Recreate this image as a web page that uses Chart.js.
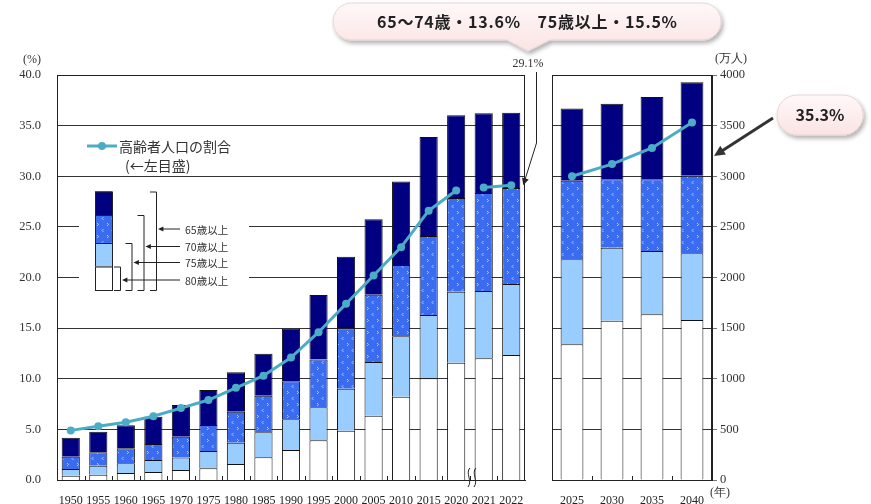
<!DOCTYPE html>
<html>
<head>
<meta charset="utf-8">
<script src="https://cdn.jsdelivr.net/npm/chart.js@4.4.0/dist/chart.umd.min.js"></script>
<style>
  body { margin: 0; background: #fff; width: 871px; height: 504px; overflow: hidden; position: relative; }
  #leftChart { position: absolute; left: 0; top: 0; }
  #rightChart { position: absolute; left: 540px; top: 0; }
  #notes { position: absolute; left: 0; top: 0; pointer-events: none; }
</style>
</head>
<body>
<canvas id="leftChart" width="545" height="504"></canvas>
<canvas id="rightChart" width="331" height="504"></canvas>
<svg id="notes" width="871" height="504" xmlns="http://www.w3.org/2000/svg">
  <defs>
    <linearGradient id="pink" x1="0" y1="0" x2="0" y2="1">
      <stop offset="0" stop-color="#fff8f8"/>
      <stop offset="1" stop-color="#fbe3e3"/>
    </linearGradient>
    <filter id="shadow" x="-10%" y="-30%" width="120%" height="170%">
      <feDropShadow dx="2" dy="3" stdDeviation="2" flood-color="#000" flood-opacity="0.3"/>
    </filter>
  </defs>
  <path d="M351.5,3 H702.5 A18.5,18.5 0 0 1 702.5,40 H550 L528,51 L507,40 H351.5 A18.5,18.5 0 0 1 351.5,3 Z"
        fill="url(#pink)" stroke="#e6d6d6" filter="url(#shadow)"/>
  <text x="527" y="28" text-anchor="middle" font-family="Noto Sans CJK JP" font-weight="700" font-size="16"
        fill="#222" textLength="300" lengthAdjust="spacing">65～74歳・13.6%　75歳以上・15.5%</text>
  <path d="M797,95 H843 A20,20 0 0 1 843,135 H797 A20,20 0 0 1 797,95 Z"
        fill="url(#pink)" stroke="#e6d6d6" filter="url(#shadow)"/>
  <text x="820" y="121" text-anchor="middle" font-family="Noto Sans CJK JP" font-weight="700" font-size="16" fill="#222">35.3%</text>
</svg>
<script>
// 実績 (1950-2022)
const yearsA = ['1950','1955','1960','1965','1970','1975','1980','1985','1990','1995','2000','2005','2010','2015','2020','2021','2022'];
const pop65A = [418, 477, 541, 625, 740, 888, 1065, 1247, 1493, 1828, 2204, 2576, 2948, 3387, 3603, 3621, 3627];
const pop70A = [230, 273, 313, 356, 428, 543, 675, 833, 975, 1190, 1500, 1830, 2123, 2410, 2785, 2835, 2884];
const pop75A = [109, 141, 165, 198, 221, 286, 369, 471, 600, 718, 902, 1165, 1419, 1630, 1860, 1867, 1936];
const pop80A = [42, 52, 70, 80, 99, 115, 158, 224, 296, 392, 486, 634, 823, 1004, 1159, 1202, 1235];
const pctA = [4.9, 5.3, 5.7, 6.3, 7.1, 7.9, 9.1, 10.3, 12.1, 14.6, 17.4, 20.2, 23.0, 26.6, 28.6, 28.9, 29.1];

// 推計 (2025-2040)
const yearsB = ['2025','2030','2035','2040'];
const pop65B = [3670, 3716, 3782, 3928];
const pop70B = [2956, 2970, 2970, 3006];
const pop75B = [2180, 2294, 2262, 2239];
const pop80B = [1340, 1573, 1636, 1580];
const pctB = [30.0, 31.2, 32.8, 35.3];

const pctTicks = [0, 5, 10, 15, 20, 25, 30, 35, 40];
const popTicks = [0, 500, 1000, 1500, 2000, 2500, 3000, 3500, 4000];

const NAVY = '#000080';
const LIGHT = '#99ccff';
const TEAL = '#4bacc6';
const INK = '#222';

Chart.defaults.font.family = '"Liberation Serif", serif';
Chart.defaults.font.size = 12;
Chart.defaults.color = '#333';
Chart.defaults.animation = false;

function makePattern() {
  const c = document.createElement('canvas');
  c.width = 10; c.height = 12;
  const g = c.getContext('2d');
  g.fillStyle = '#3a6cf2';
  g.fillRect(0, 0, 10, 12);
  g.strokeStyle = 'rgba(255,255,255,0.6)';
  g.lineWidth = 1;
  g.beginPath();
  g.moveTo(3.5, 1); g.lineTo(2, 2.5); g.lineTo(3.5, 4);
  g.moveTo(7, 7); g.lineTo(8.5, 8.5); g.lineTo(7, 10);
  g.stroke();
  return g.createPattern(c, 'repeat');
}
const DOTS = makePattern();

function barSets(p65, p70, p75, p80) {
  const diff = (a, b) => a.map((v, i) => v - b[i]);
  const common = { type: 'bar', yAxisID: 'yPop', borderColor: '#111', borderWidth: 1, order: 1 };
  return [
    { ...common, label: '80歳以上', data: p80, backgroundColor: '#fff' },
    { ...common, label: '75～79歳', data: diff(p75, p80), backgroundColor: LIGHT },
    { ...common, label: '70～74歳', data: diff(p70, p75), backgroundColor: DOTS },
    { ...common, label: '65～69歳', data: diff(p65, p70), backgroundColor: NAVY }
  ];
}

function arrow(c, x1, y1, x2, y2, width, color, head) {
  const a = Math.atan2(y2 - y1, x2 - x1);
  c.strokeStyle = color;
  c.fillStyle = color;
  c.lineWidth = width;
  c.beginPath();
  c.moveTo(x1, y1);
  c.lineTo(x2 - Math.cos(a) * head * 0.7, y2 - Math.sin(a) * head * 0.7);
  c.stroke();
  c.beginPath();
  c.moveTo(x2, y2);
  c.lineTo(x2 - head * Math.cos(a - 0.45), y2 - head * Math.sin(a - 0.45));
  c.lineTo(x2 - head * Math.cos(a + 0.45), y2 - head * Math.sin(a + 0.45));
  c.closePath();
  c.fill();
}

function frameAndTicks(chart) {
  const c = chart.ctx, a = chart.chartArea, n = chart.data.labels.length;
  const step = (a.right - a.left) / n;
  c.save();
  c.strokeStyle = INK;
  c.lineWidth = 1;
  c.strokeRect(a.left + 0.5, a.top + 0.5, a.right - a.left - 1, a.bottom - a.top);
  c.beginPath();
  for (let i = 1; i < n; i++) {
    const x = Math.round(a.left + i * step) + 0.5;
    c.moveTo(x, a.bottom);
    c.lineTo(x, a.bottom - 4);
  }
  c.stroke();
  c.restore();
}

const leftDecor = {
  id: 'leftDecor',
  beforeDatasetsDraw(chart) {
    // 凡例の部分は目盛線を消す
    const c = chart.ctx;
    c.save();
    c.fillStyle = '#fff';
    c.fillRect(79, 181, 170, 118);
    c.restore();
  },
  afterDatasetsDraw(chart) {
    const c = chart.ctx;
    frameAndTicks(chart);
    c.save();

    c.fillStyle = '#333';
    c.font = '12px "Liberation Serif"';
    c.textAlign = 'center';
    c.textBaseline = 'middle';
    c.fillText('(%)', 32, 60);

    // 折れ線の凡例
    c.strokeStyle = TEAL; c.lineWidth = 3;
    c.beginPath(); c.moveTo(87, 146); c.lineTo(117, 146); c.stroke();
    c.fillStyle = TEAL;
    c.beginPath(); c.arc(102, 146, 4, 0, Math.PI * 2); c.fill();
    c.fillStyle = '#333';
    c.font = '14px "Noto Sans CJK JP"';
    c.textAlign = 'left';
    c.fillText('高齢者人口の割合', 119, 147);
    c.fillText('(←左目盛)', 125, 166);

    // 積み上げの凡例
    const lx = 95, lw = 17;
    const parts = [[191.5, 215, NAVY], [215, 243, DOTS], [243, 266.5, LIGHT], [266.5, 290, '#fff']];
    parts.forEach(p => {
      c.fillStyle = p[2];
      c.fillRect(lx, p[0], lw, p[1] - p[0]);
      c.strokeStyle = INK; c.lineWidth = 1;
      c.strokeRect(lx + 0.5, p[0] + 0.5, lw, p[1] - p[0]);
    });
    const brackets = [
      { x: 156, top: 191.5, y: 229, text: '65歳以上' },
      { x: 143.5, top: 215, y: 246.5, text: '70歳以上' },
      { x: 131.5, top: 243, y: 262.5, text: '75歳以上' },
      { x: 120, top: 266.5, y: 280, text: '80歳以上' }
    ];
    c.font = '10.5px "Noto Sans CJK JP"';
    brackets.forEach(b => {
      c.strokeStyle = INK; c.lineWidth = 1;
      c.beginPath();
      c.moveTo(b.x - 6, b.top + 0.5); c.lineTo(b.x + 0.5, b.top + 0.5);
      c.lineTo(b.x + 0.5, 290.5); c.lineTo(b.x - 6, 290.5);
      c.stroke();
      arrow(c, 180, b.y, b.x + 2, b.y, 1, INK, 6);
      c.fillStyle = '#333';
      c.fillText(b.text, 185, b.y + 1);
    });

    // 2020と2021の間の省略記号
    const x = chart.scales.x;
    const bx = (x.getPixelForValue(14) + x.getPixelForValue(15)) / 2 - 2;
    c.strokeStyle = INK; c.lineWidth = 1;
    [0, 6].forEach(d => {
      c.beginPath();
      c.moveTo(bx + d + 2, 468);
      c.bezierCurveTo(bx + d - 3, 473, bx + d + 5, 481, bx + d, 487);
      c.stroke();
    });

    // 29.1% の引出線
    const meta = chart.getDatasetMeta(4);
    const pt = meta.data[16];
    c.fillStyle = '#333';
    c.font = '12px "Liberation Serif"';
    c.textAlign = 'center';
    c.fillText('29.1%', 528, 64);
    c.strokeStyle = INK; c.lineWidth = 1;
    c.beginPath(); c.moveTo(536.5, 72); c.lineTo(536.5, 143); c.stroke();
    arrow(c, 536.5, 143, pt.x + 12, pt.y, 1, INK, 8);
    c.restore();
  }
};

const rightDecor = {
  id: 'rightDecor',
  afterDatasetsDraw(chart) {
    const c = chart.ctx;
    frameAndTicks(chart);
    c.save();
    c.fillStyle = '#333';
    c.font = '12px "Liberation Serif"';
    c.textAlign = 'center';
    c.textBaseline = 'middle';
    c.fillText('(万人)', 191, 59);
    c.fillText('(年)', 180, 493);
    const y = chart.scales.yPop;
    arrow(c, 233, 118, 174, y.getPixelForValue(3200), 3, '#333', 12);
    c.restore();
  }
};

function baseOptions() {
  return {
    responsive: false,
    layout: { padding: { top: 75, bottom: 0 } },
    plugins: { legend: { display: false }, tooltip: { enabled: false } },
    scales: {
      x: {
        stacked: true,
        grid: { display: false },
        border: { display: true, color: INK },
        ticks: { autoSkip: false, maxRotation: 0, padding: 6, color: '#222', font: { size: 12 } },
        afterFit(s) { s.height = 24; }
      }
    }
  };
}

const leftOpts = baseOptions();
leftOpts.layout.padding.right = 20;
leftOpts.scales.y = {
  position: 'left', min: 0, max: 40,
  afterBuildTicks(s) { s.ticks = pctTicks.map(v => ({ value: v })); },
  grid: { color: '#333', drawTicks: false },
  border: { color: INK },
  ticks: { padding: 16, color: '#333', font: { size: 12.5 }, callback: v => v.toFixed(1) },
  afterFit(s) { s.width = 57; }
};
leftOpts.scales.yPop = { display: false, stacked: true, min: 0, max: 4000 };

new Chart(document.getElementById('leftChart'), {
  data: {
    labels: yearsA,
    datasets: [
      ...barSets(pop65A, pop70A, pop75A, pop80A),
      {
        type: 'line', label: '高齢者人口の割合', data: pctA, yAxisID: 'y', order: 0,
        borderColor: TEAL, backgroundColor: TEAL, borderWidth: 3,
        pointRadius: 4, pointBackgroundColor: TEAL, pointBorderWidth: 0,
        segment: { borderColor: ctx => ctx.p0DataIndex === 14 ? 'rgba(0,0,0,0)' : TEAL }
      }
    ]
  },
  options: {
    ...leftOpts,
    datasets: { bar: { categoryPercentage: 1, barPercentage: 0.66 } }
  },
  plugins: [leftDecor]
});

const rightOpts = baseOptions();
rightOpts.layout.padding.left = 12;
rightOpts.scales.yPop = {
  position: 'right', stacked: true, min: 0, max: 4000,
  afterBuildTicks(s) { s.ticks = popTicks.map(v => ({ value: v })); },
  grid: { color: '#333', tickLength: 5, tickColor: '#777' },
  border: { color: INK },
  ticks: { padding: 3, color: '#333', font: { size: 12.5 }, callback: v => String(v) },
  afterFit(s) { s.width = 159; }
};
rightOpts.scales.yPct = { display: false, min: 0, max: 40 };

new Chart(document.getElementById('rightChart'), {
  data: {
    labels: yearsB,
    datasets: [
      ...barSets(pop65B, pop70B, pop75B, pop80B),
      {
        type: 'line', label: '高齢者人口の割合', data: pctB, yAxisID: 'yPct', order: 0,
        borderColor: TEAL, backgroundColor: TEAL, borderWidth: 3,
        pointRadius: 4, pointBackgroundColor: TEAL, pointBorderWidth: 0
      }
    ]
  },
  options: {
    ...rightOpts,
    datasets: { bar: { categoryPercentage: 1, barPercentage: 0.57 } }
  },
  plugins: [rightDecor]
});
</script>
</body>
</html>
